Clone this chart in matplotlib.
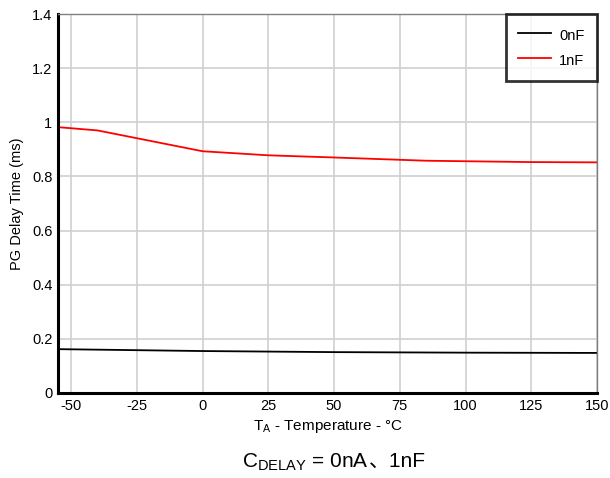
import matplotlib
matplotlib.use("Agg")
import matplotlib.pyplot as plt

# data
temp_0nF = [-55, 0, 50, 100, 150]
delay_0nF = [0.162, 0.155, 0.151, 0.149, 0.148]
temp_1nF = [-55, -40, 0, 25, 50, 85, 125, 150]
delay_1nF = [0.982, 0.970, 0.893, 0.878, 0.870, 0.858, 0.853, 0.852]

x_ticks = [-50, -25, 0, 25, 50, 75, 100, 125, 150]
y_ticks = [0, 0.2, 0.4, 0.6, 0.8, 1.0, 1.2, 1.4]
y_labels = ["0", "0.2", "0.4", "0.6", "0.8", "1", "1.2", "1.4"]

plt.rcParams['font.family'] = ['Liberation Sans', 'Noto Sans CJK SC', 'DejaVu Sans']
plt.rcParams['axes.unicode_minus'] = False

fig = plt.figure(figsize=(6.1, 4.78), dpi=100)
ax = fig.add_axes([58/610, 1 - 393/478, (597-58)/610, (393-14)/478])

ax.plot(temp_0nF, delay_0nF, color="black", lw=1.3, label="0nF")
ax.plot(temp_1nF, delay_1nF, color="#ff0000", lw=1.3, label="1nF")

ax.set_xlim(-55, 150)
ax.set_ylim(0, 1.4)
ax.set_xticks(x_ticks)
ax.set_yticks(y_ticks)
ax.set_yticklabels(y_labels)
ax.grid(True, color="#d0d0d0", lw=1.2)
ax.set_axisbelow(True)
ax.tick_params(labelsize=10.5, length=0, pad=4)

for s in ["left", "bottom"]:
    ax.spines[s].set_linewidth(2.2)
    ax.spines[s].set_color("black")
for s in ["top", "right"]:
    ax.spines[s].set_linewidth(1.0)
    ax.spines[s].set_color("#808080")

ax.set_xlabel("T$_\\mathregular{A}$ - Temperature - °C", fontsize=11, labelpad=4)
ax.set_ylabel("PG Delay Time (ms)", fontsize=10.5, labelpad=6)

leg = ax.legend(loc="upper right", fontsize=10.5, frameon=True, fancybox=False,
                borderaxespad=0, handlelength=2.3, handleheight=1.5,
                handletextpad=0.55, borderpad=0.84, labelspacing=0.47)
leg.get_frame().set_edgecolor("black")
leg.get_frame().set_linewidth(2)

# caption: subscript part via mathtext, the CJK comma as plain text
t1 = fig.text(242/610, 1 - 467/478, "C$_\\mathregular{DELAY}$ = 0nA",
              ha="left", va="baseline", fontsize=15)
fig.canvas.draw()
bb = t1.get_window_extent()
fig.text(bb.x1 / fig.bbox.width, 1 - 467/478, "、1nF",
         ha="left", va="baseline", fontsize=15)

fig.savefig("out.png", dpi=100)
